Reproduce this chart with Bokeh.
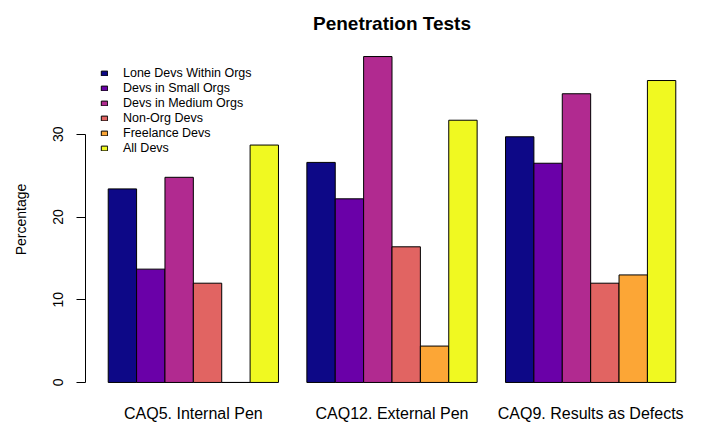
from bokeh.plotting import figure
from bokeh.models import Range1d, FixedTicker, Legend, LegendItem
from bokeh.embed import file_html
from bokeh.resources import INLINE

categories = ["CAQ5. Internal Pen", "CAQ12. External Pen", "CAQ9. Results as Defects"]
series = ["Lone Devs Within Orgs", "Devs in Small Orgs", "Devs in Medium Orgs",
          "Non-Org Devs", "Freelance Devs", "All Devs"]
colors = ["#0D0887", "#6A00A8", "#B12A90", "#E16462", "#FCA636", "#F0F921"]

lone = [23.4, 26.6, 29.7]
small = [13.7, 22.2, 26.5]
medium = [24.8, 39.4, 34.9]
nonorg = [12.0, 16.4, 12.0]
freelance = [0.0, 4.4, 13.0]
alldevs = [28.7, 31.7, 36.5]
y_ticks = [0, 10, 20, 30]

values = [lone, small, medium, nonorg, freelance, alldevs]
n_ser = len(series)
group_step = n_ser + 1
ymax = max(max(v) for v in values)

FONT = "Liberation Sans"

p = figure(width=713, height=424, output_backend="svg", toolbar_location=None,
           x_range=Range1d(0.2, 21.8), y_range=Range1d(-0.04 * ymax, 1.04 * ymax),
           min_border_left=85, min_border_right=15, min_border_top=43, min_border_bottom=29)
p.xgrid.visible = False
p.ygrid.visible = False
p.outline_line_color = None
p.background_fill_color = "white"

items = []
for s, (name, col, vals) in enumerate(zip(series, colors, values)):
    xs = [1 + g * group_step + s + 0.5 for g in range(len(categories))]
    r = p.vbar(x=xs, top=vals, bottom=0, width=1, fill_color=col,
               line_color="black", line_width=1)
    items.append(LegendItem(label=name, renderers=[r]))

centers = [1 + g * group_step + n_ser / 2 for g in range(len(categories))]
xa = p.xaxis[0]
xa.ticker = FixedTicker(ticks=centers)
xa.major_label_overrides = {c: lab for c, lab in zip(centers, categories)}
xa.axis_line_color = None
xa.major_tick_line_color = None
xa.minor_tick_line_color = None
xa.major_tick_out = 0
xa.major_tick_in = 0
xa.major_label_standoff = 9
xa.major_label_text_font = FONT
xa.major_label_text_font_size = "16px"
xa.major_label_text_color = "black"

ya = p.yaxis[0]
ya.ticker = FixedTicker(ticks=y_ticks)
ya.bounds = (0, 30)
ya.axis_line_color = "black"
ya.major_tick_line_color = "black"
ya.minor_tick_line_color = None
ya.major_tick_out = 9
ya.major_tick_in = 0
ya.major_label_orientation = "vertical"
ya.major_label_standoff = 13
ya.major_label_text_font = FONT
ya.major_label_text_font_size = "14px"
ya.major_label_text_color = "black"
ya.axis_label = "Percentage"
ya.axis_label_text_font = FONT
ya.axis_label_text_font_size = "14px"
ya.axis_label_text_font_style = "normal"
ya.axis_label_text_color = "black"
ya.axis_label_standoff = 22

p.title.text = "Penetration Tests"
p.title.align = "center"
p.title.text_font = FONT
p.title.text_font_size = "19px"
p.title.text_font_style = "bold"
p.title.text_color = "black"
p.title.standoff = 20

legend = Legend(items=items, location=(15, 240), border_line_color=None,
                background_fill_alpha=0, padding=0, margin=0, spacing=0,
                glyph_width=8, glyph_height=6, label_height=15, label_standoff=15,
                label_text_font=FONT, label_text_font_size="12.5px",
                label_text_color="black")
p.add_layout(legend)

open("out.html", "w").write(file_html(p, INLINE))
